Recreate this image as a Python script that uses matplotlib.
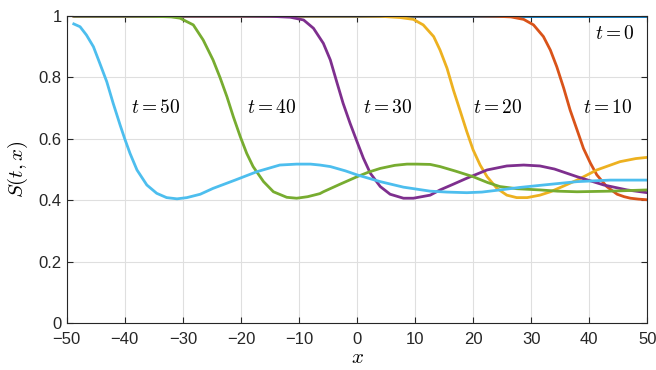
import matplotlib
matplotlib.use("Agg")
import matplotlib.pyplot as plt

# values
x_t0 = [-49, 50]
s_t0 = [1.0, 1.0]

x_t10 = [-49, 20, 24, 26.5, 28.7, 30.4, 32.1, 33.3, 34.4, 35.6, 36.7, 37.9, 39.0, 40.2, 41.3, 43.0,
         44.8, 46.0, 47.1, 48.5, 50]
s_t10 = [1.0, 1.0, 0.999, 0.997, 0.989, 0.971, 0.933, 0.889, 0.835, 0.765, 0.694, 0.629, 0.569,
         0.521, 0.483, 0.445, 0.42, 0.412, 0.407, 0.404, 0.402]

x_t20 = [-49, 0, 4, 7.4, 9.7, 11.4, 13.2, 14.3, 15.5, 16.6, 17.8, 18.9, 20.0, 21.2, 22.4, 24.1,
         25.8, 27.5, 29.3, 31.5, 33.3, 35.5, 37.9, 41.3, 45.3, 48.0, 50]
s_t20 = [1.0, 1.0, 0.999, 0.995, 0.989, 0.971, 0.933, 0.889, 0.83, 0.759, 0.689, 0.624, 0.564,
         0.515, 0.477, 0.439, 0.417, 0.409, 0.409, 0.417, 0.428, 0.446, 0.466, 0.499, 0.526,
         0.536, 0.54]

x_t30 = [-49, -20, -15, -11.5, -9.2, -7.5, -5.8, -4.6, -3.5, -2.4, -1.2, 0.0, 1.1, 2.3, 4.0, 5.7,
         8.0, 9.7, 12.6, 14.3, 16.5, 18.9, 22.4, 25.8, 28.7, 31.5, 34.0, 37.9, 42.5, 46.5, 50]
s_t30 = [1.0, 1.0, 0.999, 0.996, 0.987, 0.96, 0.911, 0.857, 0.786, 0.716, 0.651, 0.591, 0.537,
         0.488, 0.445, 0.42, 0.407, 0.407, 0.417, 0.434, 0.452, 0.472, 0.499, 0.512, 0.515,
         0.512, 0.502, 0.477, 0.45, 0.434, 0.425]

x_t40 = [-49, -40, -35, -32, -30.5, -28.2, -26.5, -24.8, -23.6, -22.4, -21.3, -20.1, -19.0, -17.9,
         -16.1, -14.4, -12.1, -10.4, -8.5, -6.4, -5.8, -3, 0.0, 2.0, 4.0, 6.5, 8.6, 10.3, 12.6,
         14.3, 17.0, 20.0, 22.5, 24.6, 27.5, 31.5, 34.5, 37.9, 43.6, 50]
s_t40 = [1.0, 1.0, 0.999, 0.997, 0.993, 0.971, 0.922, 0.857, 0.80, 0.737, 0.672, 0.607, 0.553,
         0.51, 0.461, 0.428, 0.41, 0.407, 0.412, 0.422, 0.428, 0.452, 0.477, 0.492, 0.504,
         0.514, 0.518, 0.518, 0.517, 0.51, 0.495, 0.477, 0.458, 0.445, 0.438, 0.434, 0.43,
         0.428, 0.43, 0.434]

x_t50 = [-49, -47.7, -46.6, -45.4, -44.3, -43.1, -42.0, -40.8, -40.0, -39.1, -37.9, -36.2, -34.5,
         -32.8, -31.0, -29.3, -27.0, -24.8, -21.0, -17.3, -13.3, -10.4, -8.0, -6.4, -4.6, -2.0,
         0.0, 2.0, 4.0, 8.0, 12.6, 15.5, 18.9, 21.5, 24.6, 28.0, 32.1, 37.9, 43.6, 50]
s_t50 = [0.976, 0.965, 0.938, 0.90, 0.846, 0.786, 0.716, 0.645, 0.60, 0.553, 0.499, 0.45, 0.423,
         0.409, 0.405, 0.409, 0.42, 0.439, 0.466, 0.493, 0.515, 0.518, 0.518, 0.515, 0.51,
         0.496, 0.483, 0.472, 0.461, 0.443, 0.43, 0.427, 0.425, 0.427, 0.434, 0.442, 0.45,
         0.461, 0.466, 0.466]

labels = ["$t = 0$", "$t = 10$", "$t = 20$", "$t = 30$", "$t = 40$", "$t = 50$"]
label_x = [41, 39, 20, 1, -19, -38.9]
label_y = [0.941, 0.70, 0.70, 0.70, 0.70, 0.70]

colors = ["#0072BD", "#D95319", "#EDB120", "#7E2F8E", "#77AC30", "#4DBEEE"]

plt.rcParams["font.family"] = ["Liberation Sans", "DejaVu Sans"]
plt.rcParams["mathtext.fontset"] = "cm"

fig = plt.figure(figsize=(6.56, 3.70), dpi=100)
ax = fig.add_axes([0.1017, 0.1262, 0.8851, 0.8306])

xs = [x_t0, x_t10, x_t20, x_t30, x_t40, x_t50]
ss = [s_t0, s_t10, s_t20, s_t30, s_t40, s_t50]
for x, s, c in zip(xs, ss, colors):
    ax.plot(x, s, color=c, linewidth=2, solid_joinstyle="round", solid_capstyle="butt")

for lab, lx, ly in zip(labels, label_x, label_y):
    ax.text(lx, ly, lab, fontsize=14, va="center", ha="left", color="#000000")

ax.set_xlim(-50, 50)
ax.set_ylim(0, 1)
ax.set_xticks(range(-50, 51, 10))
ax.set_yticks([0, 0.2, 0.4, 0.6, 0.8, 1])
ax.set_yticklabels(["0", "0.2", "0.4", "0.6", "0.8", "1"])
ax.grid(True, color="#dfdfdf", linewidth=0.8)
ax.set_axisbelow(True)
ax.tick_params(direction="in", length=4, width=0.8, labelsize=12, colors="#262626",
               top=True, right=True)
ax.tick_params(axis="x", pad=6)
ax.tick_params(axis="y", pad=3.5)
for sp in ax.spines.values():
    sp.set_color("#262626")
    sp.set_linewidth(0.8)

ax.set_xlabel("$x$", fontsize=15, labelpad=1)
ax.set_ylabel("$S(t,x)$", fontsize=15, labelpad=6)

fig.savefig("out.png", dpi=100)
